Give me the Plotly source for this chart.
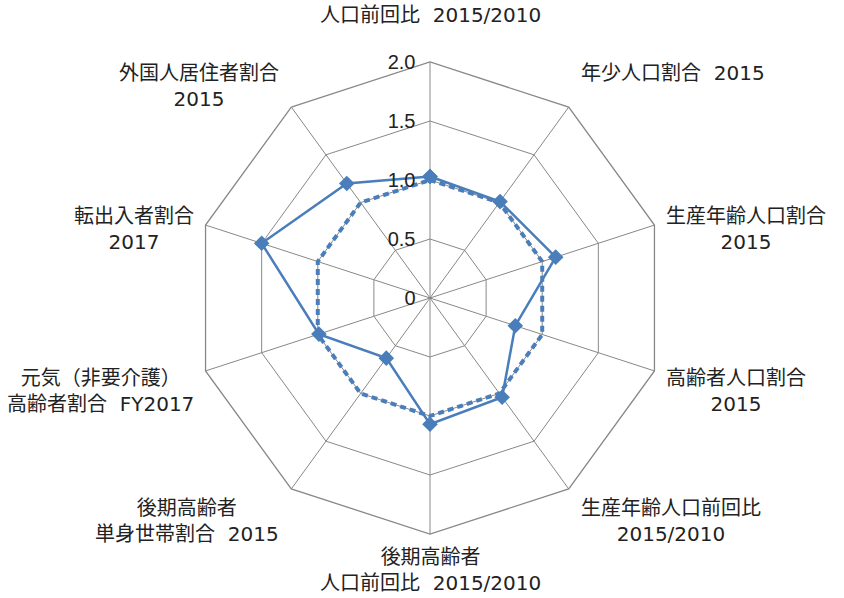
import math
import plotly.graph_objects as go

SP = "\u00a0\u00a0"
categories = [
    "人口前回比" + SP + "2015/2010",
    "年少人口割合" + SP + "2015",
    "生産年齢人口割合<br>2015",
    "高齢者人口割合<br>2015",
    "生産年齢人口前回比<br>2015/2010",
    "後期高齢者<br>人口前回比" + SP + "2015/2010",
    "後期高齢者<br>単身世帯割合" + SP + "2015",
    "元気（非要介護）<br>高齢者割合" + SP + "FY2017",
    "転出入者割合<br>2017",
    "外国人居住者割合<br>2015",
]
values = [1.03, 1.01, 1.12, 0.76, 1.04, 1.07, 0.63, 0.99, 1.50, 1.20]
baseline = [1.0, 1.0, 1.0, 1.0, 1.0, 1.0, 1.0, 1.0, 1.0, 1.0]
radial_tickvals = [0, 0.5, 1.0, 1.5, 2.0]
radial_ticktext = ["0", "0.5", "1.0", "1.5", "2.0"]

blue = "#4a7ebb"
grid = "#888888"
text_color = "#222222"
label_font = "DejaVu Sans, Noto Sans CJK JP, sans-serif"
tick_font = "Liberation Sans, Noto Sans CJK JP, sans-serif"

W, H = 844, 598
ML, MR, MT, MB = 16, 0, 62, 64

fig = go.Figure()
fig.add_trace(go.Scatterpolar(
    r=baseline + baseline[:1], theta=categories + categories[:1],
    mode="lines", line=dict(color=blue, width=4, dash="6px,4px"),
    showlegend=False, hoverinfo="skip",
))
fig.add_trace(go.Scatterpolar(
    r=values + values[:1], theta=categories + categories[:1],
    mode="lines+markers", line=dict(color=blue, width=2.5),
    marker=dict(symbol="diamond", size=12, color=blue),
    showlegend=False,
))

# category labels as annotations placed around the polar frame
pw, ph = W - ML - MR, H - MT - MB
cx, cy = ML + pw / 2, MT + ph / 2
R = min(pw, ph) / 2
annotations = []
n = len(categories)
for i, label in enumerate(categories):
    th = math.radians(360.0 * i / n)
    s, c = math.sin(th), math.cos(th)
    vx, vy = cx + R * s, cy - R * c
    if abs(s) < 0.1:
        xa, x = "center", vx
    elif s > 0:
        xa, x = "left", vx + 10
    else:
        xa, x = "right", vx - 10
    y1 = vy - 23 * c - 24 * max(0.0, c) ** 2
    ytop = y1 - 14
    annotations.append(dict(
        text=label, showarrow=False, xref="paper", yref="paper",
        x=(x - ML) / pw, y=1 - (ytop - MT) / ph,
        xanchor=xa, yanchor="top", align="center",
        font=dict(family=label_font, size=20, color=text_color),
    ))

fig.update_layout(
    width=W, height=H,
    margin=dict(l=ML, r=MR, t=MT, b=MB),
    paper_bgcolor="white", plot_bgcolor="white",
    font=dict(family=label_font, size=20, color=text_color),
    annotations=annotations,
    polar=dict(
        bgcolor="white",
        gridshape="linear",
        angularaxis=dict(
            direction="clockwise", rotation=90,
            showline=True, linecolor=grid, linewidth=1.3,
            gridcolor=grid, gridwidth=1.3,
            ticks="", showticklabels=False,
        ),
        radialaxis=dict(
            range=[0, 2], angle=90, tickangle=90,
            tickvals=radial_tickvals, ticktext=radial_ticktext,
            showline=False, ticks="outside", ticklen=7,
            tickcolor="rgba(0,0,0,0)",
            gridcolor=grid, gridwidth=1.3,
            side="counterclockwise",
            tickfont=dict(size=20, color=text_color, family=tick_font),
        ),
    ),
)

fig.write_html(
    "out.html",
    config={"displayModeBar": False},
    post_script="document.body.style.margin='0';",
)
